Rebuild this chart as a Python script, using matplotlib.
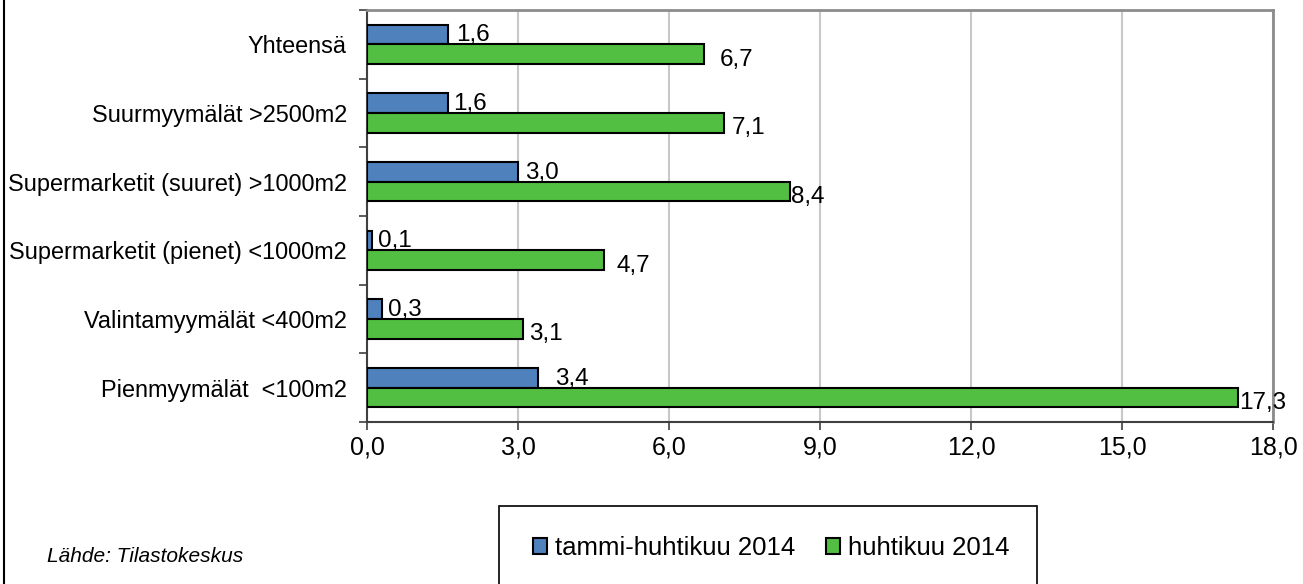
import matplotlib
matplotlib.use("Agg")
import matplotlib.pyplot as plt
import matplotlib.ticker as mticker
from matplotlib.patches import Rectangle, Patch
from matplotlib.lines import Line2D
import numpy as np

CATEGORIES = [
    "Pienmyymälät  <100m2",
    "Valintamyymälät <400m2",
    "Supermarketit (pienet) <1000m2",
    "Supermarketit (suuret) >1000m2",
    "Suurmyymälät >2500m2",
    "Yhteensä",
]
JAN_APR = [3.4, 0.3, 0.1, 3.0, 1.6, 1.6]
APRIL = [17.3, 3.1, 4.7, 8.4, 7.1, 6.7]
SERIES = ["tammi-huhtikuu 2014", "huhtikuu 2014"]
X_TICKS = [0, 3, 6, 9, 12, 15, 18]

# gap between bar end and label (points), as Excel placed them
PAD_BLUE = [12, 4, 4, 5, 4, 6]
PAD_GREEN = [1, 4, 9, 1, 5, 11]

BLUE = "#4F81BD"
GREEN = "#52BE42"

plt.rcParams["font.family"] = ["Liberation Sans", "DejaVu Sans"]

W, H = 1303, 584
fig = plt.figure(figsize=(W / 100, H / 100), dpi=100)
ax = fig.add_axes([367 / W, 1 - 422 / H, (1273 - 367) / W, (422 - 10) / H])

y = np.arange(len(CATEGORIES))
h = 0.285
ax.barh(y + h / 2, JAN_APR, height=h, color=BLUE, edgecolor="black", linewidth=1.5, zorder=3)
ax.barh(y - h / 2, APRIL, height=h, color=GREEN, edgecolor="black", linewidth=1.5, zorder=3)


def fmt(v):
    return f"{v:.1f}".replace(".", ",")


for i in range(len(CATEGORIES)):
    ax.annotate(fmt(JAN_APR[i]), xy=(JAN_APR[i], y[i] + h / 2), xytext=(PAD_BLUE[i], -0.5),
                textcoords="offset points", ha="left", va="center", fontsize=17.5)
    ax.annotate(fmt(APRIL[i]), xy=(APRIL[i], y[i] - h / 2), xytext=(PAD_GREEN[i], -4),
                textcoords="offset points", ha="left", va="center", fontsize=17.5)

ax.set_xlim(0, 18)
ax.set_ylim(-0.5, len(CATEGORIES) - 0.5)
ax.set_xticks(X_TICKS)
ax.xaxis.set_major_formatter(mticker.FuncFormatter(lambda v, p: fmt(v)))
ax.set_yticks(y)
ax.set_yticklabels(CATEGORIES)
ax.set_yticks(np.arange(-0.5, len(CATEGORIES), 1), minor=True)
ax.tick_params(axis="y", which="major", length=0, pad=14.5, labelsize=16.9)
ax.tick_params(axis="y", which="minor", length=6, width=1.2, color="#404040", direction="out")
ax.tick_params(axis="x", length=6, width=1.2, color="#404040", pad=4, labelsize=18)

ax.grid(axis="x", color="#C8C8C8", linewidth=1.5, zorder=0)
ax.set_axisbelow(True)
for side in ["top", "right"]:
    ax.spines[side].set_color("#8C8C8C")
    ax.spines[side].set_linewidth(2)
for side in ["left", "bottom"]:
    ax.spines[side].set_color("#404040")
    ax.spines[side].set_linewidth(1.5)

# figure border on the left
fig.add_artist(Line2D([4 / W, 4 / W], [0, 1], color="black", linewidth=1.5))

# legend box (runs past the bottom edge)
fig.add_artist(Rectangle((499 / W, -0.05), (1037 - 499) / W, 0.05 + 1 - 506 / H,
                         transform=fig.transFigure, facecolor="white",
                         edgecolor="black", linewidth=1.2))
handles = [Patch(facecolor=BLUE, edgecolor="black", linewidth=1.5),
           Patch(facecolor=GREEN, edgecolor="black", linewidth=1.5)]
fig.legend(handles, SERIES, loc="center", bbox_to_anchor=(771 / W, 1 - 548 / H),
           ncol=2, frameon=False, fontsize=18.5, handlelength=0.55, handleheight=0.55,
           handletextpad=0.3, columnspacing=1.2, borderpad=0)

fig.text(47 / W, 1 - 557 / H, "Lähde: Tilastokeskus", fontsize=15, style="italic",
         ha="left", va="center")

fig.savefig("out.png", dpi=100)
